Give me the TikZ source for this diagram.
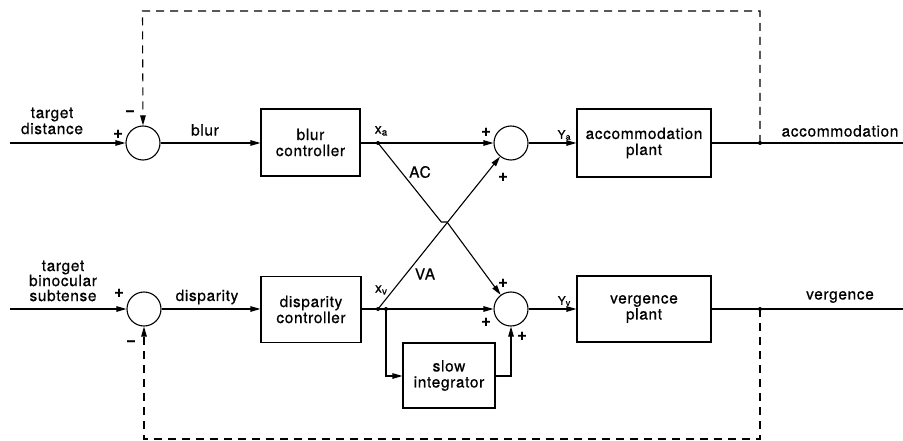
\documentclass[tikz,border=0pt]{standalone}
\usepackage{fontspec}
\setmainfont{TeX Gyre Heros}[LetterSpace=4,FakeBold=0.6]
\usetikzlibrary{arrows.meta}
\begin{document}
\begin{tikzpicture}[x=1pt,y=-1pt,line width=1.1pt,
  every node/.style={font=\fontsize{15.5}{16}\selectfont},
  blk/.style={draw,rectangle,align=center,inner sep=0pt},
  sum/.style={draw,circle,minimum size=34pt,inner sep=0pt},
  arr/.style={-{Triangle[length=10pt,width=5.5pt]}},
  fb/.style={dash pattern=on 8pt off 6pt},
  dot/.style={circle,fill,inner sep=0pt,minimum size=4pt},
  sgn/.style={font=\fontsize{17}{17}\selectfont\bfseries},
  lbl/.style={align=center},
  sub/.style={font=\fontsize{14}{14}\selectfont}]
\useasboundingbox (0,0) rectangle (903,441);

% summing junctions
\node[sum] (s1) at (143,143) {};
\node[sum] (s2) at (511,143) {};
\node[sum] (s3) at (144,309) {};
\node[sum] (s4) at (511,309) {};

% blocks
\node[blk,minimum width=99pt,minimum height=67pt] (bc) at (310.5,142.5) {blur\\controller};
\node[blk,minimum width=100pt,minimum height=66pt] (dc) at (311,309.5) {disparity\\controller};
\node[blk,minimum width=134pt,minimum height=68pt] (ap) at (644,143) {accommodation\\plant};
\node[blk,minimum width=134pt,minimum height=66pt] (vp) at (644,309) {vergence\\plant};
\node[blk,minimum width=92pt,minimum height=65pt] (si) at (449,375.5) {slow\\integrator};

% coordinates
\coordinate (in1) at (10,143);
\coordinate (in2) at (10,309);
\coordinate (out1) at (903,143);
\coordinate (out2) at (903,309);
\node[dot] (xa) at (378,143) {};
\node[dot] (xv) at (378,309) {};
\node[dot] (xi) at (386,309) {};
\node[dot] (ta) at (760,143) {};
\node[dot] (tv) at (760,309) {};
\coordinate (ftl) at (142.5,11);
\coordinate (ftr) at (760,11);
\coordinate (fbl) at (144,439);
\coordinate (fbr) at (760,439);
\coordinate (ic) at (511,376);
\coordinate (j1) at (441.3,222);
\coordinate (j2) at (447,222);

% top row
\draw[arr] (in1) -- (s1);
\draw[arr] (s1) -- (bc.west |- s1);
\draw (bc.east |- xa) -- (xa.center);
\draw[arr] (xa.center) -- (s2);
\draw[arr] (s2) -- (ap.west |- s2);
\draw (ap.east |- ta) -- (out1);

% bottom row
\draw[arr] (in2) -- (s3);
\draw[arr] (s3) -- (dc.west |- s3);
\draw (dc.east |- xv) -- (xv.center);
\draw[arr] (xv.center) -- (s4);
\draw[arr] (s4) -- (vp.west |- s4);
\draw (vp.east |- tv) -- (out2);

% slow integrator
\draw[arr] (xi.center) |- (si.west |- ic);
\draw[arr] (si.east |- ic) -| (s4.south);

% cross coupling
\draw[arr] (xa.center) -- (j1) -- (j2) -- (s4);
\draw[arr] (xv.center) -- (s2);

% feedback
\draw[fb,arr] (ta.center) -- (ftr) -- (ftl) -- (s1.north);
\draw[fb,arr] (tv.center) -- (fbr) -- (fbl) -- (s3.south);

% labels
\node[lbl] at (52,121) {target\\distance};
\node[lbl,font=\fontsize{15.5}{15}\selectfont] at (63,281) {target\\binocular\\subtense};
\node at (205,130) {blur};
\node at (207,297) {disparity};
\node at (840,131) {accommodation};
\node at (840,297) {vergence};
\node at (420,172) {AC};
\node at (425,274) {VA};

\node[sub] at (381,131) {x\raisebox{-2pt}{\fontsize{10}{10}\selectfont a}};
\node[sub] at (381,290) {x\raisebox{-2pt}{\fontsize{10}{10}\selectfont v}};
\node[sub,font=\fontsize{12}{12}\selectfont] at (564,135) {Y\raisebox{-1pt}{\fontsize{9}{9}\selectfont a}};
\node[sub,font=\fontsize{12}{12}\selectfont] at (564,301) {Y\raisebox{-1pt}{\fontsize{9}{9}\selectfont v}};

% signs
\node[sgn] at (118,134) {+};
\node[sgn] at (130,113) {\textminus};
\node[sgn] at (119,293) {+};
\node[sgn] at (131,343) {\textminus};
\node[sgn] at (486,132) {+};
\node[sgn] at (503,177) {+};
\node[sgn] at (503,283) {+};
\node[sgn] at (486,322) {+};
\node[sgn] at (522,336) {+};
\end{tikzpicture}
\end{document}
